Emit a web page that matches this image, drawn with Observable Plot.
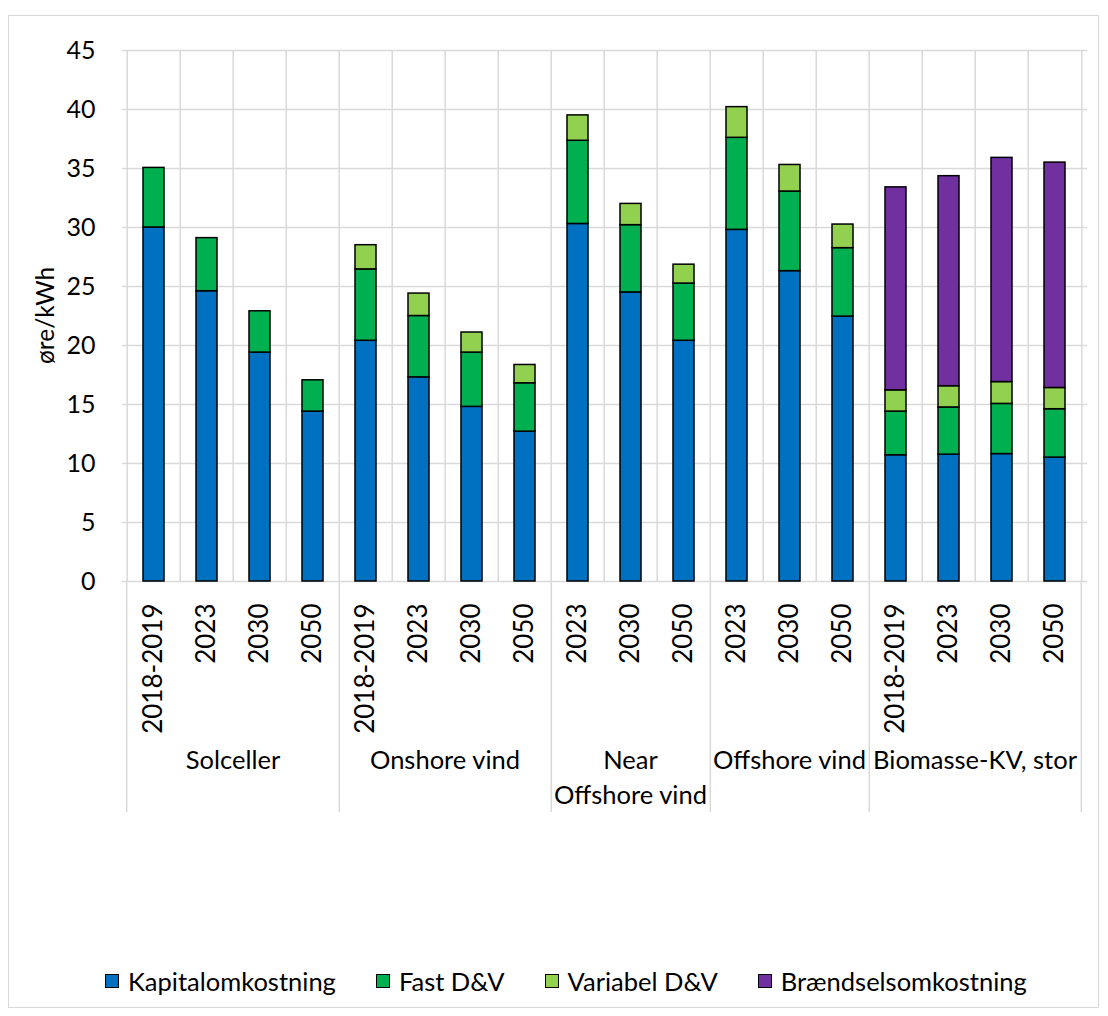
<!DOCTYPE html>
<html>
<head>
<meta charset="utf-8">
<script src="https://cdn.jsdelivr.net/npm/d3@7"></script>
<script src="https://cdn.jsdelivr.net/npm/@observablehq/plot@0.6"></script>
<style>
  body { margin: 0; background: #fff; font-family: Lato, "Open Sans", sans-serif; }
  #wrap { position: relative; width: 1108px; height: 1016px; overflow: hidden; }
  #frame { position: absolute; left: 8px; top: 15px; width: 1091px; height: 993px; border: 1.5px solid #d9d9d9; box-sizing: border-box; }
  #chart { position: absolute; left: 0; top: 0; }
  #legend { position: absolute; left: 105px; top: 966px; display: flex; align-items: center; font-size: 25.5px; color: #000; }
  .item { display: flex; align-items: center; margin-right: 40px; }
  .sw { width: 12px; height: 12px; border: 1.5px solid #000; margin-right: 9px; }
</style>
</head>
<body>
<div id="wrap">
  <div id="frame"></div>
  <div id="chart"></div>
  <div id="legend"></div>
</div>
<script>
// ---- data ----
const groups = ["Solceller", "Onshore vind", "Near Offshore vind", "Offshore vind", "Biomasse-KV, stor"];
const groupLabelLines = [["Solceller"], ["Onshore vind"], ["Near", "Offshore vind"], ["Offshore vind"], ["Biomasse-KV, stor"]];
const groupYears = [
  ["2018-2019", "2023", "2030", "2050"],
  ["2018-2019", "2023", "2030", "2050"],
  ["2023", "2030", "2050"],
  ["2023", "2030", "2050"],
  ["2018-2019", "2023", "2030", "2050"]
];
const series = ["Kapitalomkostning", "Fast D&V", "Variabel D&V", "Brændselsomkostning"];
const colors = ["#0070C0", "#00B050", "#92D050", "#7030A0"];
const kapital    = [30.0, 24.6, 19.4, 14.4, 20.4, 17.3, 14.8, 12.7, 30.3, 24.5, 20.4, 29.8, 26.3, 22.45, 10.7, 10.75, 10.8, 10.5];
const fastDV     = [5.05, 4.5, 3.5, 2.65, 6.05, 5.2, 4.6, 4.1, 7.05, 5.7, 4.85, 7.8, 6.75, 5.8, 3.7, 4.0, 4.25, 4.1];
const variabelDV = [0, 0, 0, 0, 2.05, 1.9, 1.7, 1.55, 2.15, 1.8, 1.6, 2.6, 2.25, 2.0, 1.8, 1.8, 1.85, 1.8];
const braendsel  = [0, 0, 0, 0, 0, 0, 0, 0, 0, 0, 0, 0, 0, 0, 17.2, 17.8, 19.0, 19.1];
const yTicks = [0, 5, 10, 15, 20, 25, 30, 35, 40, 45];

// ---- build table ----
const keys = [];
groups.forEach((g, gi) => groupYears[gi].forEach(y => { keys.push(g + "|" + y); }));
const seriesValues = [kapital, fastDV, variabelDV, braendsel];
const data = [];
keys.forEach((k, i) => {
  series.forEach((s, si) => {
    const v = seriesValues[si][i];
    if (v > 0) data.push({key: k, series: s, value: v});
  });
});

const W = 1108, H = 940, ML = 122, MR = 21, MT = 50, MB = 359;
const step = (W - ML - MR) / keys.length;
const FONT = "Lato, 'Open Sans', sans-serif";

const plot = Plot.plot({
  width: W, height: H,
  marginLeft: ML, marginRight: MR, marginTop: MT, marginBottom: MB,
  style: {fontFamily: FONT, fontSize: "25px", color: "#000", background: "transparent"},
  x: {domain: keys, paddingInner: 0.6, paddingOuter: 0.3, label: null},
  y: {domain: [0, 45], label: null},
  color: {domain: series, range: colors},
  marks: [
    Plot.ruleY(yTicks, {stroke: "#d9d9d9", strokeWidth: 1.5}),
    Plot.ruleX(keys, {x: d => d, dx: -step / 2, stroke: "#d9d9d9", strokeWidth: 1.5}),
    Plot.ruleX([keys[keys.length - 1]], {x: d => d, dx: step / 2, stroke: "#d9d9d9", strokeWidth: 1.5}),
    Plot.barY(data, Plot.stackY({order: series, x: "key", y: "value", fill: "series", stroke: "#000", strokeWidth: 1.5})),
    Plot.axisX({tickFormat: k => k.split("|")[1], tickRotate: -90, tickSize: 0, tickPadding: 22, label: null, fontSize: 26}),
    Plot.axisY({ticks: yTicks, tickSize: 0, tickPadding: 27, label: null, fontSize: 25})
  ]
});
document.getElementById("chart").appendChild(plot);

// ---- group separators & labels below axis, positioned through the x scale ----
const xs = plot.scale("x");
const svg = d3.select(plot);
const y0 = H - MB;
const gsel = svg.append("g");
let start = 0;
groups.forEach((g, gi) => {
  const n = groupYears[gi].length;
  const firstKey = keys[start], lastKey = keys[start + n - 1];
  const left = xs.apply(firstKey) + xs.bandwidth / 2 - step / 2;
  const right = xs.apply(lastKey) + xs.bandwidth / 2 + step / 2;
  if (gi === 0) gsel.append("line").attr("x1", left).attr("x2", left).attr("y1", y0).attr("y2", 812).attr("stroke", "#d9d9d9").attr("stroke-width", 1.5);
  gsel.append("line").attr("x1", right).attr("x2", right).attr("y1", y0).attr("y2", 812).attr("stroke", "#d9d9d9").attr("stroke-width", 1.5);
  const cx = (left + right) / 2;
  groupLabelLines[gi].forEach((line, li) => {
    gsel.append("text").attr("x", cx).attr("y", 769 + li * 35)
      .attr("text-anchor", "middle").attr("font-size", 25.5).attr("fill", "#000")
      .attr("font-family", FONT).text(line);
  });
  start += n;
});
// y axis title
svg.append("text").attr("transform", `translate(54,${(MT + y0) / 2}) rotate(-90)`)
  .attr("text-anchor", "middle").attr("font-size", 24.5).attr("fill", "#000")
  .attr("font-family", FONT).text("øre/kWh");

// ---- legend ----
const legend = d3.select("#legend");
series.forEach((s, i) => {
  const it = legend.append("div").attr("class", "item");
  it.append("div").attr("class", "sw").style("background", colors[i]);
  it.append("span").text(s);
});
</script>
</body>
</html>
